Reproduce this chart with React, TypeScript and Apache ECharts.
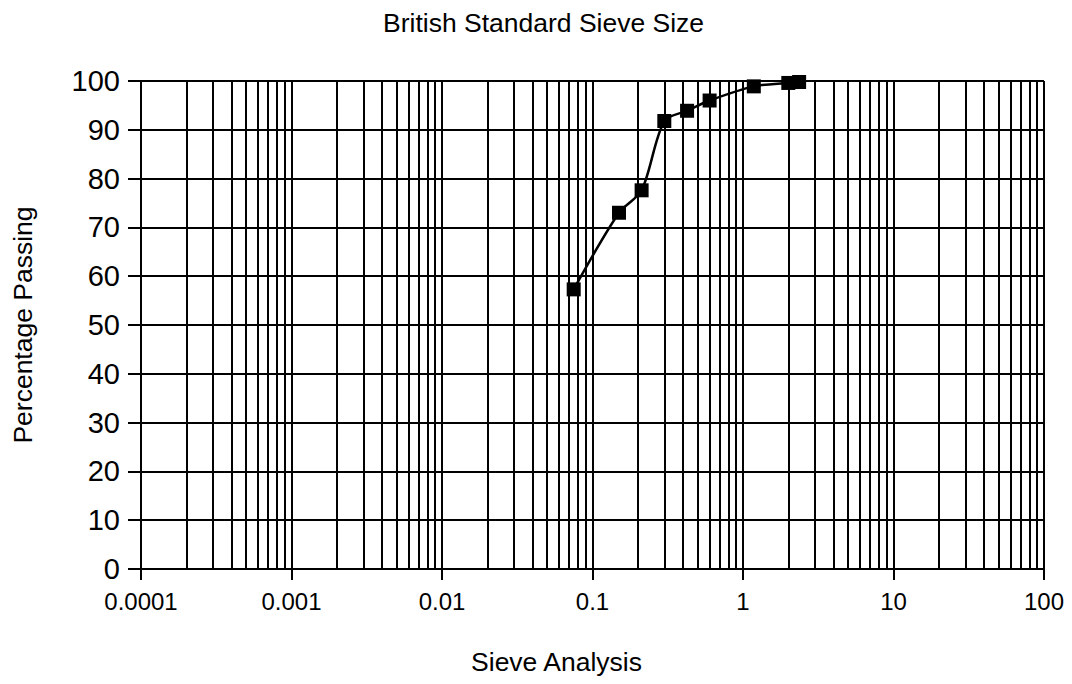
import React, { useEffect, useRef } from "react";
import * as echarts from "echarts";

const sieveSizes = [0.075, 0.15, 0.212, 0.3, 0.425, 0.6, 1.18, 2, 2.36];
const percentPassing = [57.3, 73.0, 77.6, 91.8, 93.9, 96.0, 98.9, 99.6, 99.8];
const xTickLabels = ["0.0001", "0.001", "0.01", "0.1", "1", "10", "100"];
const decades = [0.0001, 0.001, 0.01, 0.1, 1, 10];
const minorMultipliers = [2, 3, 4, 5, 6, 7, 8, 9];

const FONT = "'Liberation Sans', Arial, Helvetica, sans-serif";

export default function App() {
  const ref = useRef<HTMLDivElement>(null);

  useEffect(() => {
    if (!ref.current) return;
    const chart = echarts.init(ref.current, undefined, { renderer: "svg" });
    const minorValues = decades.flatMap((d) =>
      minorMultipliers.map((m) => Number((d * m).toPrecision(3)))
    );
    const black = "#000";
    chart.setOption({
      animation: false,
      backgroundColor: "#fff",
      title: {
        text: "British Standard Sieve Size",
        left: 378,
        top: 4,
        textStyle: { fontFamily: FONT, fontSize: 26.5, fontWeight: "normal", color: black },
      },
      grid: { left: 141, right: 28, top: 81, bottom: 115, containLabel: false },
      xAxis: {
        type: "log",
        logBase: 10,
        min: 0.0001,
        max: 100,
        name: "Sieve Analysis",
        nameLocation: "middle",
        nameGap: 79,
        nameTextStyle: {
          fontFamily: FONT,
          fontSize: 26.5,
          color: black,
          padding: [0, 72, 0, 0],
        },
        axisLine: { show: true, lineStyle: { color: black, width: 2 } },
        axisTick: { show: true, length: 11, lineStyle: { color: black, width: 2 } },
        axisLabel: {
          fontFamily: FONT,
          fontSize: 24,
          color: black,
          margin: 20,
          formatter: (v: number) => {
            const i = Math.round(Math.log10(v)) + 4;
            return xTickLabels[i] ?? String(v);
          },
        },
        splitLine: { show: true, lineStyle: { color: black, width: 2 } },
      },
      yAxis: {
        type: "value",
        min: 0,
        max: 100,
        interval: 10,
        name: "Percentage Passing",
        nameLocation: "middle",
        nameGap: 105,
        nameTextStyle: { fontFamily: FONT, fontSize: 26.5, color: black },
        axisLine: { show: true, lineStyle: { color: black, width: 2 } },
        axisTick: { show: true, length: 13, lineStyle: { color: black, width: 2 } },
        axisLabel: { fontFamily: FONT, fontSize: 29, color: black, margin: 21 },
        splitLine: { show: true, lineStyle: { color: black, width: 2 } },
      },
      series: [
        {
          type: "line",
          data: [],
          z: 1,
          silent: true,
          markLine: {
            silent: true,
            precision: 8,
            symbol: ["none", "none"],
            label: { show: false },
            lineStyle: { color: black, width: 2, type: "solid" },
            emphasis: { disabled: true },
            data: minorValues.map((v) => ({ xAxis: v })),
          },
        },
        {
          type: "line",
          z: 5,
          data: sieveSizes.map((x, i) => [x, percentPassing[i]]),
          symbol: "rect",
          symbolSize: 14,
          smooth: 0.3,
          itemStyle: { color: black },
          lineStyle: { color: black, width: 2.5 },
        },
      ],
    });
    return () => chart.dispose();
  }, []);

  return (
    <div
      ref={ref}
      style={{ position: "absolute", left: 0, top: 0, width: 1072, height: 684 }}
    />
  );
}
